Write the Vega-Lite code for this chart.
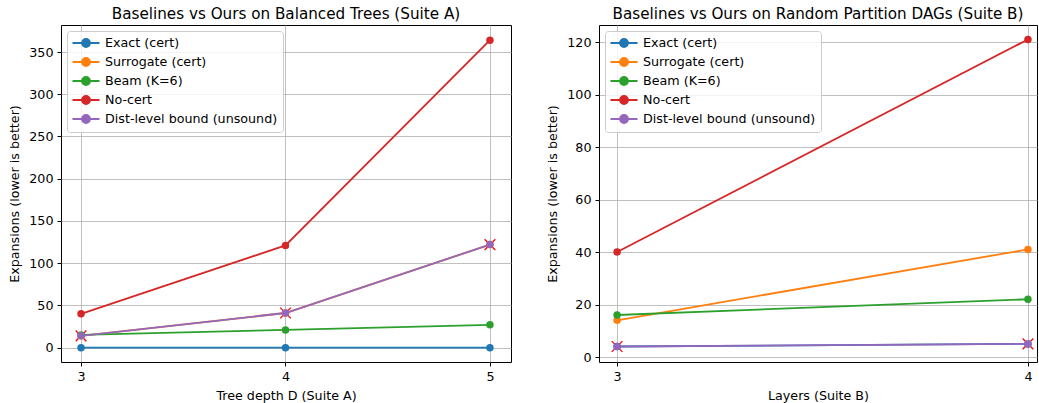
{
  "$schema": "https://vega.github.io/schema/vega-lite/v6.json",
  "padding": {"left": 8, "right": 0, "top": 6, "bottom": 5},
  "spacing": 34,
  "data": {"values": [
    {"s": "A", "x": 3, "m": "Exact (cert)", "v": 0},
    {"s": "A", "x": 4, "m": "Exact (cert)", "v": 0},
    {"s": "A", "x": 5, "m": "Exact (cert)", "v": 0},
    {"s": "A", "x": 3, "m": "Surrogate (cert)", "v": 14},
    {"s": "A", "x": 4, "m": "Surrogate (cert)", "v": 41},
    {"s": "A", "x": 5, "m": "Surrogate (cert)", "v": 122},
    {"s": "A", "x": 3, "m": "Beam (K=6)", "v": 15},
    {"s": "A", "x": 4, "m": "Beam (K=6)", "v": 21},
    {"s": "A", "x": 5, "m": "Beam (K=6)", "v": 27},
    {"s": "A", "x": 3, "m": "No-cert", "v": 40},
    {"s": "A", "x": 4, "m": "No-cert", "v": 121},
    {"s": "A", "x": 5, "m": "No-cert", "v": 364},
    {"s": "A", "x": 3, "m": "Dist-level bound (unsound)", "v": 14},
    {"s": "A", "x": 4, "m": "Dist-level bound (unsound)", "v": 41},
    {"s": "A", "x": 5, "m": "Dist-level bound (unsound)", "v": 122},
    {"s": "B", "x": 3, "m": "Exact (cert)", "v": 4},
    {"s": "B", "x": 4, "m": "Exact (cert)", "v": 5},
    {"s": "B", "x": 3, "m": "Surrogate (cert)", "v": 14},
    {"s": "B", "x": 4, "m": "Surrogate (cert)", "v": 41},
    {"s": "B", "x": 3, "m": "Beam (K=6)", "v": 16},
    {"s": "B", "x": 4, "m": "Beam (K=6)", "v": 22},
    {"s": "B", "x": 3, "m": "No-cert", "v": 40},
    {"s": "B", "x": 4, "m": "No-cert", "v": 121},
    {"s": "B", "x": 3, "m": "Dist-level bound (unsound)", "v": 4},
    {"s": "B", "x": 4, "m": "Dist-level bound (unsound)", "v": 5}
  ]},
  "resolve": {"scale": {"color": "independent", "x": "independent", "y": "independent"}, "legend": {"color": "independent"}},
  "hconcat": [
    {
      "width": 450, "height": 337,
      "title": "Baselines vs Ours on Balanced Trees (Suite A)",
      "transform": [{"filter": "datum.s === 'A'"}],
      "encoding": {
        "x": {"field": "x", "type": "quantitative", "scale": {"domain": [2.902, 5.103], "nice": false, "zero": false}, "axis": {"values": [3, 4, 5], "format": "d", "title": "Tree depth D (Suite A)"}},
        "y": {"field": "v", "type": "quantitative", "scale": {"domain": [-17, 382], "nice": false, "zero": false}, "axis": {"values": [0, 50, 100, 150, 200, 250, 300, 350], "title": "Expansions (lower is better)"}},
        "color": {"field": "m", "type": "nominal", "scale": {"domain": ["Exact (cert)", "Surrogate (cert)", "Beam (K=6)", "No-cert", "Dist-level bound (unsound)"], "range": ["#1f77b4", "#ff7f0e", "#2ca02c", "#d62728", "#9467bd"]},
          "legend": {"title": null, "orient": "top-left", "offset": 6,
            "symbolType": "M-2.25,0L2.25,0M-0.667,0A0.667,0.667 0 1,1 0.667,0A0.667,0.667 0 1,1 -0.667,0Z",
            "encode": {"symbols": {"update": {
              "fill": {"signal": "datum.value === 'Exact (cert)' ? '#1f77b4' : datum.value === 'Surrogate (cert)' ? '#ff7f0e' : datum.value === 'Beam (K=6)' ? '#2ca02c' : datum.value === 'No-cert' ? '#d62728' : '#9467bd'"},
              "stroke": {"signal": "datum.value === 'Exact (cert)' ? '#1f77b4' : datum.value === 'Surrogate (cert)' ? '#ff7f0e' : datum.value === 'Beam (K=6)' ? '#2ca02c' : datum.value === 'No-cert' ? '#d62728' : '#9467bd'"},
              "fillOpacity": {"value": 1}, "opacity": {"value": 1}}}}}}
      },
      "layer": [
        {"mark": {"type": "line", "strokeWidth": 1.8}},
        {"transform": [{"filter": "datum.m === 'Dist-level bound (unsound)'"}], "mark": {"type": "point", "shape": "M-1,-1L1,1M-1,1L1,-1", "size": 115, "strokeWidth": 1.3, "color": "#ff0000", "filled": false, "opacity": 1}, "encoding": {"color": {"value": "#ff0000"}}},
        {"mark": {"type": "point", "shape": "circle", "filled": true, "size": 56, "opacity": 1}}
      ]
    },
    {
      "width": 438, "height": 337,
      "title": "Baselines vs Ours on Random Partition DAGs (Suite B)",
      "transform": [{"filter": "datum.s === 'B'"}],
      "encoding": {
        "x": {"field": "x", "type": "quantitative", "scale": {"domain": [2.956, 4.022], "nice": false, "zero": false}, "axis": {"values": [3, 4], "format": "d", "title": "Layers (Suite B)"}},
        "y": {"field": "v", "type": "quantitative", "scale": {"domain": [-1.9, 126.5], "nice": false, "zero": false}, "axis": {"values": [0, 20, 40, 60, 80, 100, 120], "title": "Expansions (lower is better)"}},
        "color": {"field": "m", "type": "nominal", "scale": {"domain": ["Exact (cert)", "Surrogate (cert)", "Beam (K=6)", "No-cert", "Dist-level bound (unsound)"], "range": ["#1f77b4", "#ff7f0e", "#2ca02c", "#d62728", "#9467bd"]},
          "legend": {"title": null, "orient": "top-left", "offset": 6,
            "symbolType": "M-2.25,0L2.25,0M-0.667,0A0.667,0.667 0 1,1 0.667,0A0.667,0.667 0 1,1 -0.667,0Z",
            "encode": {"symbols": {"update": {
              "fill": {"signal": "datum.value === 'Exact (cert)' ? '#1f77b4' : datum.value === 'Surrogate (cert)' ? '#ff7f0e' : datum.value === 'Beam (K=6)' ? '#2ca02c' : datum.value === 'No-cert' ? '#d62728' : '#9467bd'"},
              "stroke": {"signal": "datum.value === 'Exact (cert)' ? '#1f77b4' : datum.value === 'Surrogate (cert)' ? '#ff7f0e' : datum.value === 'Beam (K=6)' ? '#2ca02c' : datum.value === 'No-cert' ? '#d62728' : '#9467bd'"},
              "fillOpacity": {"value": 1}, "opacity": {"value": 1}}}}}}
      },
      "layer": [
        {"mark": {"type": "line", "strokeWidth": 1.8}},
        {"transform": [{"filter": "datum.m === 'Dist-level bound (unsound)'"}], "mark": {"type": "point", "shape": "M-1,-1L1,1M-1,1L1,-1", "size": 115, "strokeWidth": 1.3, "color": "#ff0000", "filled": false, "opacity": 1}, "encoding": {"color": {"value": "#ff0000"}}},
        {"mark": {"type": "point", "shape": "circle", "filled": true, "size": 56, "opacity": 1}}
      ]
    }
  ],
  "config": {
    "font": "DejaVu Sans",
    "view": {"stroke": "#000000", "strokeWidth": 1},
    "title": {"fontSize": 15.2, "fontWeight": "normal", "color": "#000000", "offset": 3},
    "axis": {"domain": false, "grid": true, "gridColor": "#b0b0b0", "gridWidth": 0.8, "tickColor": "#000000", "tickSize": 4, "labelPadding": 4, "labelFontSize": 12.7, "labelColor": "#000000", "titleFontSize": 12.7, "titleFontWeight": "normal", "titleColor": "#000000", "titlePadding": 7},
    "legend": {"labelFontSize": 12.7, "labelColor": "#000000", "symbolSize": 144, "symbolStrokeWidth": 1.8, "padding": 5, "rowPadding": 3, "labelOffset": 12, "symbolOffset": 7, "strokeColor": "#cccccc", "fillColor": "rgba(255,255,255,0.8)", "cornerRadius": 3, "labelLimit": 400}
  }
}
